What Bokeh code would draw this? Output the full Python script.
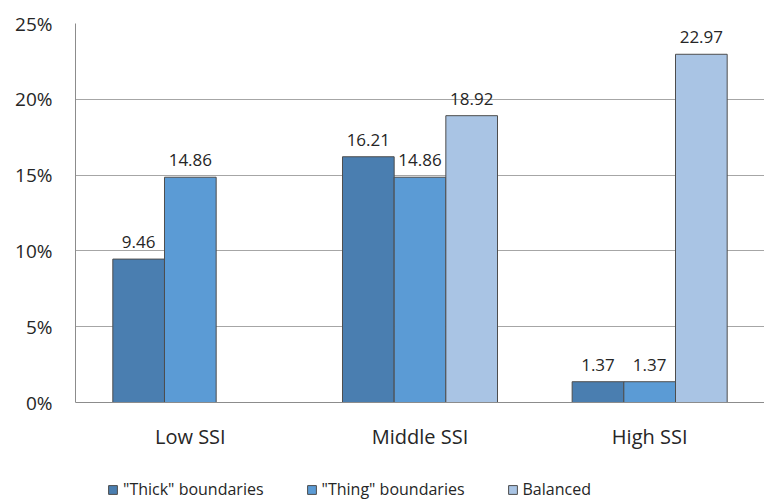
from bokeh.plotting import figure
from bokeh.models import (ColumnDataSource, FactorRange, Legend, LegendItem, PrintfTickFormatter,
                          FixedTicker, LabelSet, Span, Range1d)
from bokeh.transform import dodge
from bokeh.core.properties import value
from bokeh.embed import file_html
from bokeh.resources import INLINE
import math

categories = ["Low SSI", "Middle SSI", "High SSI"]
series_names = ['"Thick" boundaries', '"Thing" boundaries', "Balanced"]
thick = [9.46, 16.21, 1.37]
thing = [14.86, 14.86, 1.37]
balanced = [float("nan"), 18.92, 22.97]
y_ticks = [0, 5, 10, 15, 20, 25]

colors = ["#4A7EB0", "#5B9BD5", "#A9C4E4"]
offsets = [-0.225, 0.0, 0.225]
FONT = "Open Sans"
TEXT = "#262626"
AXIS = "#8c8c8c"

# frame spans from the top border to the bottom of the figure; value 0 sits 98px above the bottom
px_per_unit = 379 / 25.0
y_min = -98 / px_per_unit

p = figure(x_range=FactorRange(*categories, range_padding=0), y_range=Range1d(y_min, 25),
           width=764, height=500, output_backend="svg", toolbar_location=None,
           min_border_left=75, min_border_right=0, min_border_top=23, min_border_bottom=0)
p.outline_line_color = None
p.background_fill_color = "white"
p.border_fill_color = "white"
p.xaxis.visible = False

p.xgrid.grid_line_color = None
p.ygrid.grid_line_color = "#a6a6a6"
p.ygrid.ticker = FixedTicker(ticks=y_ticks)

renderers = []
for vals, col, off, name in zip([thick, thing, balanced], colors, offsets, series_names):
    xs = [c for c, v in zip(categories, vals) if not math.isnan(v)]
    ys = [v for v in vals if not math.isnan(v)]
    src = ColumnDataSource(dict(cat=xs, val=ys, lab=["%.2f" % v for v in ys]))
    r = p.vbar(x=dodge("cat", off, range=p.x_range), top="val", bottom=0, width=0.225, source=src,
               fill_color=col, line_color="#4d4d4d", line_width=1)
    renderers.append(r)
    labels = LabelSet(x=dodge("cat", off, range=p.x_range), y="val", text="lab", source=src,
                      text_align="center", text_baseline="bottom", y_offset=11,
                      text_font=value(FONT), text_font_size="17px", text_color=TEXT)
    p.add_layout(labels)

# baseline (category axis line) at 0
p.add_layout(Span(location=0, dimension="width", line_color=AXIS, line_width=1))

# category labels under the baseline
cat_src = ColumnDataSource(dict(cat=categories, y=[0] * len(categories)))
p.add_layout(LabelSet(x="cat", y="y", text="cat", source=cat_src, text_align="center",
                      text_baseline="middle", y_offset=-34, text_font=value(FONT),
                      text_font_size="20px", text_color=TEXT))

p.yaxis.ticker = FixedTicker(ticks=y_ticks)
p.yaxis.bounds = (0, 25)
p.yaxis.formatter = PrintfTickFormatter(format="%d%%")
p.yaxis.major_tick_line_color = None
p.yaxis.minor_tick_line_color = None
p.yaxis.axis_line_color = AXIS
p.yaxis.major_label_standoff = 17
p.yaxis.major_label_text_font = FONT
p.yaxis.major_label_text_font_size = "19px"
p.yaxis.major_label_text_color = TEXT

legend = Legend(items=[LegendItem(label=n, renderers=[r]) for n, r in zip(series_names, renderers)],
                orientation="horizontal", location=(32, 0),
                border_line_color=None, background_fill_alpha=0,
                label_text_font=FONT, label_text_font_size="16px", label_text_color=TEXT,
                glyph_width=11, glyph_height=11, label_standoff=5, spacing=42,
                margin=0, padding=0)
p.add_layout(legend, "center")

open("out.html", "w").write(file_html(p, INLINE))
